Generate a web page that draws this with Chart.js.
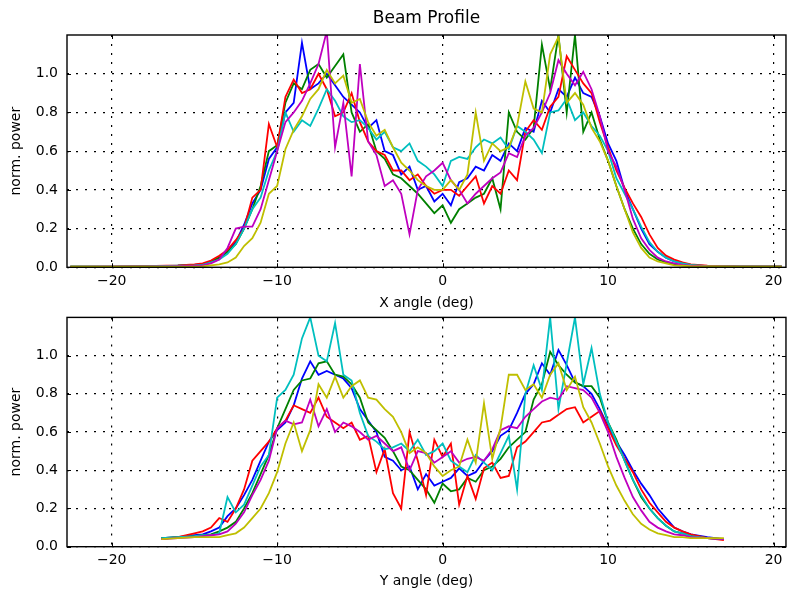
<!DOCTYPE html>
<html>
<head>
<meta charset="utf-8">
<title>Beam Profile</title>
<script src="https://cdn.jsdelivr.net/npm/chart.js@4.4.1/dist/chart.umd.min.js"></script>
<style>
  html, body { margin: 0; padding: 0; background: #fff; }
  #wrap { position: relative; width: 788px; height: 593px; overflow: hidden; }
  #wrap canvas { position: absolute; left: 0; }
  #topChart { top: 0; }
  #bottomChart { top: 300px; }
</style>
</head>
<body>
<div id="wrap">
  <canvas id="topChart" width="788" height="320"></canvas>
  <canvas id="bottomChart" width="788" height="293"></canvas>
</div>
<script>
const xTop = [-22.5, -20, -18, -16, -15,
  -14.5, -14, -13.5, -13, -12.5, -12, -11.5, -11, -10.5, -10,
  -9.5, -9, -8.5, -8, -7.5, -7, -6.5, -6, -5.5, -5,
  -4.5, -4, -3.5, -3, -2.5, -2, -1.5, -1, -0.5, 0,
  0.5, 1, 1.5, 2, 2.5, 3, 3.5, 4, 4.5, 5,
  5.5, 6, 6.5, 7, 7.5, 8, 8.5, 9, 9.5, 10,
  10.5, 11, 11.5, 12, 12.5, 13, 13.5, 14, 14.5,
  15, 16, 18, 20.5];

const xBottom = [-17, -16, -15,
  -14.5, -14, -13.5, -13, -12.5, -12, -11.5, -11, -10.5, -10,
  -9.5, -9, -8.5, -8, -7.5, -7, -6.5, -6, -5.5, -5,
  -4.5, -4, -3.5, -3, -2.5, -2, -1.5, -1, -0.5, 0,
  0.5, 1, 1.5, 2, 2.5, 3, 3.5, 4, 4.5, 5,
  5.5, 6, 6.5, 7, 7.5, 8, 8.5, 9, 9.5, 10,
  10.5, 11, 11.5, 12, 12.5, 13, 13.5, 14, 14.5,
  15, 16, 17];

// X angle profiles
const topBlue = [0.003, 0.004, 0.005, 0.008, 0.012,
  0.015, 0.025, 0.05, 0.08, 0.13, 0.22, 0.33, 0.40, 0.56, 0.62,
  0.80, 0.85, 1.16, 0.92, 0.95, 1.00, 0.94, 0.88, 0.84, 0.80,
  0.72, 0.76, 0.60, 0.58, 0.48, 0.52, 0.40, 0.42, 0.34, 0.38,
  0.32, 0.44, 0.46, 0.52, 0.50, 0.58, 0.55, 0.64, 0.60, 0.72,
  0.70, 0.86, 0.80, 0.92, 0.88, 0.98, 0.90, 0.88, 0.78, 0.64,
  0.55, 0.40, 0.30, 0.20, 0.12, 0.08, 0.05, 0.03, 0.02,
  0.012, 0.006, 0.003, 0.003];
const topGreen = [0.003, 0.004, 0.005, 0.008, 0.012,
  0.015, 0.03, 0.05, 0.08, 0.12, 0.20, 0.30, 0.42, 0.60, 0.63,
  0.85, 0.95, 0.92, 1.02, 1.05, 0.98, 1.04, 1.10, 0.80, 0.70,
  0.74, 0.60, 0.56, 0.48, 0.46, 0.42, 0.38, 0.33, 0.28, 0.32,
  0.23, 0.30, 0.33, 0.36, 0.38, 0.46, 0.30, 0.80, 0.70, 0.66,
  0.72, 1.15, 0.92, 1.20, 0.80, 1.20, 0.70, 0.80, 0.66, 0.55,
  0.42, 0.30, 0.20, 0.12, 0.07, 0.04, 0.025, 0.015, 0.01,
  0.008, 0.006, 0.005, 0.005];
const topRed = [0.003, 0.004, 0.006, 0.010, 0.015,
  0.02, 0.035, 0.06, 0.09, 0.14, 0.20, 0.36, 0.40, 0.74, 0.62,
  0.88, 0.97, 0.90, 0.92, 1.00, 0.92, 0.78, 0.80, 0.90, 0.75,
  0.65, 0.60, 0.58, 0.50, 0.50, 0.45, 0.48, 0.42, 0.38, 0.40,
  0.40, 0.37, 0.42, 0.47, 0.33, 0.42, 0.38, 0.50, 0.45, 0.70,
  0.76, 0.71, 0.83, 0.88, 1.09, 1.02, 0.95, 0.90, 0.75, 0.62,
  0.50, 0.41, 0.33, 0.26, 0.17, 0.10, 0.06, 0.04, 0.025,
  0.015, 0.008, 0.004, 0.003];
const topCyan = [0.003, 0.004, 0.005, 0.008, 0.010,
  0.012, 0.025, 0.04, 0.07, 0.12, 0.20, 0.30, 0.36, 0.50, 0.60,
  0.80, 0.70, 0.76, 0.73, 0.82, 0.92, 0.86, 0.78, 0.75, 0.76,
  0.72, 0.66, 0.70, 0.62, 0.60, 0.64, 0.55, 0.52, 0.48, 0.42,
  0.55, 0.57, 0.56, 0.62, 0.66, 0.64, 0.67, 0.61, 0.73, 0.70,
  0.66, 0.59, 0.80, 0.81, 0.87, 0.76, 0.80, 0.73, 0.68, 0.60,
  0.46, 0.38, 0.30, 0.21, 0.13, 0.08, 0.05, 0.03, 0.02,
  0.012, 0.006, 0.004, 0.003];
const topMagenta = [0.002, 0.003, 0.004, 0.006, 0.008,
  0.01, 0.02, 0.04, 0.10, 0.20, 0.21, 0.21, 0.30, 0.45, 0.60,
  0.75, 0.80, 0.86, 0.95, 1.05, 1.22, 0.62, 0.85, 0.47, 1.05,
  0.65, 0.58, 0.42, 0.45, 0.38, 0.17, 0.40, 0.47, 0.50, 0.54,
  0.45, 0.40, 0.33, 0.38, 0.42, 0.46, 0.49, 0.59, 0.57, 0.68,
  0.72, 0.80, 0.90, 1.07, 1.00, 0.94, 1.01, 0.92, 0.78, 0.60,
  0.52, 0.40, 0.25, 0.15, 0.09, 0.05, 0.03, 0.02, 0.012,
  0.008, 0.005, 0.003, 0.003];
const topYellow = [0.003, 0.003, 0.003, 0.003, 0.004,
  0.005, 0.01, 0.015, 0.025, 0.05, 0.11, 0.15, 0.23, 0.38, 0.42,
  0.61, 0.71, 0.78, 0.87, 0.92, 1.02, 0.95, 0.99, 0.85, 0.87,
  0.75, 0.68, 0.71, 0.62, 0.54, 0.50, 0.45, 0.42, 0.40, 0.40,
  0.45, 0.40, 0.48, 0.80, 0.55, 0.64, 0.60, 0.62, 0.73, 0.96,
  0.82, 0.80, 1.10, 1.19, 0.85, 0.90, 0.84, 0.72, 0.65, 0.55,
  0.42, 0.30, 0.18, 0.10, 0.05, 0.03, 0.02, 0.01, 0.008,
  0.006, 0.005, 0.004, 0.004];

// Y angle profiles
const bottomBlue = [0.045, 0.05, 0.06,
  0.065, 0.08, 0.10, 0.16, 0.20, 0.27, 0.35, 0.45, 0.55, 0.61,
  0.65, 0.74, 0.88, 0.97, 0.90, 0.92, 0.90, 0.88, 0.83, 0.72,
  0.66, 0.60, 0.47, 0.45, 0.40, 0.42, 0.30, 0.38, 0.32, 0.34,
  0.36, 0.41, 0.37, 0.39, 0.45, 0.50, 0.58, 0.61, 0.70, 0.80,
  0.85, 0.96, 0.90, 1.03, 0.95, 0.86, 0.84, 0.80, 0.72, 0.63,
  0.55, 0.48, 0.40, 0.33, 0.27, 0.20, 0.15, 0.10, 0.08,
  0.065, 0.05, 0.04];
const bottomGreen = [0.045, 0.05, 0.055,
  0.06, 0.065, 0.08, 0.10, 0.13, 0.20, 0.28, 0.38, 0.48, 0.62,
  0.72, 0.82, 0.87, 0.88, 0.96, 0.97, 0.90, 0.89, 0.85, 0.78,
  0.65, 0.61, 0.57, 0.50, 0.42, 0.40, 0.35, 0.30, 0.23, 0.33,
  0.29, 0.30, 0.36, 0.34, 0.40, 0.42, 0.46, 0.52, 0.56, 0.60,
  0.77, 0.85, 1.02, 0.95, 0.90, 0.86, 0.84, 0.84, 0.78, 0.65,
  0.56, 0.45, 0.35, 0.26, 0.20, 0.15, 0.11, 0.08, 0.07,
  0.06, 0.045, 0.04];
const bottomRed = [0.04, 0.05, 0.07,
  0.08, 0.10, 0.15, 0.13, 0.20, 0.30, 0.45, 0.50, 0.55, 0.62,
  0.66, 0.74, 0.72, 0.70, 0.78, 0.68, 0.65, 0.62, 0.65, 0.56,
  0.58, 0.39, 0.51, 0.28, 0.20, 0.60, 0.45, 0.27, 0.56, 0.47,
  0.54, 0.22, 0.37, 0.25, 0.41, 0.44, 0.36, 0.37, 0.52, 0.55,
  0.60, 0.65, 0.66, 0.69, 0.72, 0.73, 0.65, 0.68, 0.71, 0.62,
  0.53, 0.46, 0.39, 0.30, 0.23, 0.18, 0.13, 0.10, 0.08,
  0.065, 0.045, 0.035];
const bottomCyan = [0.045, 0.05, 0.055,
  0.06, 0.06, 0.07, 0.26, 0.18, 0.22, 0.32, 0.42, 0.48, 0.78,
  0.82, 0.90, 1.09, 1.20, 1.00, 0.97, 1.17, 0.90, 0.87, 0.70,
  0.58, 0.55, 0.51, 0.52, 0.54, 0.50, 0.56, 0.48, 0.50, 0.54,
  0.45, 0.42, 0.39, 0.48, 0.44, 0.40, 0.49, 0.58, 0.30, 0.80,
  0.95, 0.82, 1.20, 0.72, 0.96, 1.20, 0.85, 1.04, 0.80, 0.65,
  0.55, 0.45, 0.35, 0.27, 0.20, 0.15, 0.11, 0.08, 0.07,
  0.055, 0.045, 0.04];
const bottomMagenta = [0.04, 0.045, 0.05,
  0.055, 0.06, 0.065, 0.08, 0.12, 0.18, 0.27, 0.35, 0.45, 0.62,
  0.66, 0.64, 0.65, 0.77, 0.63, 0.72, 0.60, 0.65, 0.63, 0.60,
  0.56, 0.58, 0.54, 0.50, 0.52, 0.40, 0.50, 0.49, 0.44, 0.47,
  0.50, 0.44, 0.46, 0.47, 0.45, 0.51, 0.61, 0.63, 0.62, 0.68,
  0.72, 0.76, 0.78, 0.77, 0.84, 0.83, 0.82, 0.78, 0.70, 0.60,
  0.47, 0.36, 0.26, 0.19, 0.13, 0.10, 0.08, 0.065, 0.06,
  0.05, 0.045, 0.04];
const bottomYellow = [0.04, 0.045, 0.05,
  0.05, 0.05, 0.05, 0.06, 0.07, 0.10, 0.15, 0.20, 0.28, 0.39,
  0.54, 0.65, 0.50, 0.61, 0.85, 0.78, 0.89, 0.78, 0.84, 0.87,
  0.78, 0.77, 0.72, 0.68, 0.60, 0.49, 0.52, 0.49, 0.42, 0.37,
  0.40, 0.42, 0.56, 0.44, 0.75, 0.46, 0.62, 0.90, 0.90, 0.82,
  0.85, 0.78, 0.90, 0.96, 0.82, 0.89, 0.73, 0.65, 0.54, 0.42,
  0.32, 0.24, 0.17, 0.12, 0.09, 0.07, 0.06, 0.05, 0.05,
  0.045, 0.045, 0.045];

const xTicks = [-20, -10, 0, 10, 20];
const yTicks = [0, 0.2, 0.4, 0.6, 0.8, 1.0];
const colors = ['#0000ff', '#008000', '#ff0000', '#00bfbf', '#bf00bf', '#bfbf00'];

const tickFont = { family: 'DejaVu Sans', size: 14 };

// axes frame + inward tick marks, like the old matplotlib look
const framePlugin = {
  id: 'frame',
  afterDatasetsDraw(chart) {
    const { ctx, chartArea: a, scales } = chart;
    ctx.save();
    ctx.strokeStyle = '#000';
    ctx.lineWidth = 1;
    ctx.beginPath();
    xTicks.forEach(v => {
      const px = Math.round(scales.x.getPixelForValue(v)) + 0.5;
      ctx.moveTo(px, a.top); ctx.lineTo(px, a.top + 4);
      ctx.moveTo(px, a.bottom); ctx.lineTo(px, a.bottom - 4);
    });
    yTicks.forEach(v => {
      const py = Math.round(scales.y.getPixelForValue(v)) + 0.5;
      ctx.moveTo(a.left, py); ctx.lineTo(a.left + 4, py);
      ctx.moveTo(a.right, py); ctx.lineTo(a.right - 4, py);
    });
    ctx.stroke();
    ctx.lineWidth = 1.4;
    ctx.strokeRect(a.left, a.top, a.right - a.left, a.bottom - a.top);
    ctx.restore();
  }
};

function buildDatasets(xs, series) {
  // matplotlib puts the last line on top, chart.js the first -> reverse
  return series.map((ys, i) => ({
    data: xs.map((x, j) => ({ x: x, y: ys[j] })),
    borderColor: colors[i],
    borderWidth: 1.8,
    pointRadius: 0,
    tension: 0,
    fill: false
  })).reverse();
}

function makeOptions(cfg) {
  return {
    responsive: false,
    animation: false,
    layout: { padding: { top: cfg.padTop, right: 2, left: 0, bottom: 0 } },
    plugins: {
      legend: { display: false },
      tooltip: { enabled: false },
      title: cfg.title ? {
        display: true,
        text: cfg.title,
        fullSize: false,
        color: '#000',
        font: { family: 'DejaVu Sans', size: 17, weight: 'normal' },
        padding: { top: 8.8, bottom: 5.8 }
      } : { display: false }
    },
    scales: {
      x: {
        type: 'linear',
        min: -22.7,
        max: 20.75,
        afterBuildTicks: s => { s.ticks = xTicks.map(v => ({ value: v })); },
        afterFit: s => { s.height = cfg.xAxisHeight; },
        ticks: {
          padding: 5.5,
          color: '#000',
          font: tickFont,
          maxRotation: 0,
          callback: v => String(v).replace('-', '\u2212')
        },
        grid: { color: '#000', lineWidth: 1.2, drawTicks: false },
        border: { display: false, dash: [2, 7] },
        title: {
          display: true,
          text: cfg.xTitle,
          color: '#000',
          font: tickFont,
          padding: { top: 0, bottom: cfg.xTitlePad }
        }
      },
      y: {
        min: 0,
        max: 1.2,
        afterBuildTicks: s => { s.ticks = yTicks.map(v => ({ value: v })); },
        afterFit: s => { s.width = 67; },
        ticks: {
          padding: 9,
          color: '#000',
          font: tickFont,
          callback: v => v.toFixed(1)
        },
        grid: { color: '#000', lineWidth: 1.2, drawTicks: false },
        border: { display: false, dash: [2, 7] },
        title: {
          display: true,
          text: 'norm. power',
          color: '#000',
          font: tickFont,
          padding: { top: 8, bottom: 0 }
        }
      }
    }
  };
}

new Chart(document.getElementById('topChart'), {
  type: 'line',
  data: {
    datasets: buildDatasets(xTop, [topBlue, topGreen, topRed, topCyan, topMagenta, topYellow])
  },
  options: makeOptions({
    title: 'Beam Profile',
    padTop: 0,
    xAxisHeight: 320 - 267.3,
    xTitle: 'X angle (deg)',
    xTitlePad: 8.6
  }),
  plugins: [framePlugin]
});

new Chart(document.getElementById('bottomChart'), {
  type: 'line',
  data: {
    datasets: buildDatasets(xBottom, [bottomBlue, bottomGreen, bottomRed, bottomCyan, bottomMagenta, bottomYellow])
  },
  options: makeOptions({
    title: null,
    padTop: 13.3,
    xAxisHeight: 293 - 246.7,
    xTitle: 'Y angle (deg)',
    xTitlePad: 3.6
  }),
  plugins: [framePlugin]
});
</script>
</body>
</html>
